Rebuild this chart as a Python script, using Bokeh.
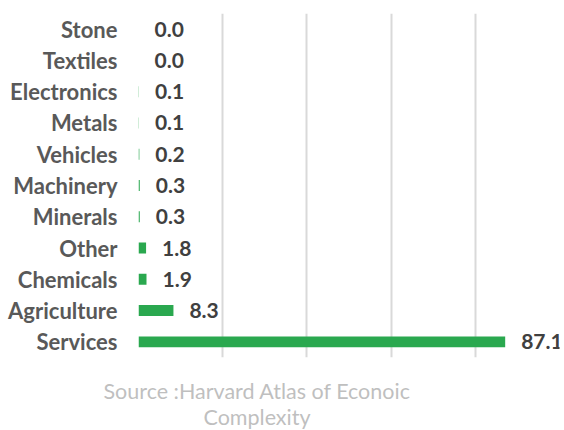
from bokeh.plotting import figure
from bokeh.models import FactorRange, Range1d, FixedTicker, ColumnDataSource, Title
from bokeh.core.properties import value
from bokeh.embed import file_html
from bokeh.resources import INLINE

categories = ["Stone", "Textiles", "Electronics", "Metals", "Vehicles", "Machinery",
              "Minerals", "Other", "Chemicals", "Agriculture", "Services"]
values = [0.0, 0.0, 0.1, 0.1, 0.2, 0.3, 0.3, 1.8, 1.9, 8.3, 87.1]
value_labels = [f"{v:.1f}" for v in values]
grid_ticks = [0, 20, 40, 60, 80, 100]
source_lines = ["Source :Harvard Atlas of Econoic", "Complexity"]

FONT = "Lato"
src = ColumnDataSource(dict(cat=categories, val=values, lab=value_labels))

p = figure(width=564, height=430, output_backend="svg", toolbar_location=None,
           y_range=FactorRange(factors=list(reversed(categories))),
           x_range=Range1d(0, 100),
           min_border_left=138, min_border_right=5, min_border_top=13, min_border_bottom=73)
p.outline_line_color = None
p.background_fill_color = "white"
p.border_fill_color = "white"

p.hbar(y="cat", right="val", left=0, height=0.35, fill_color="#2AA84F",
       line_color=None, source=src)
p.text(x="val", y="cat", text="lab", source=src, x_offset=16,
       text_baseline="middle", text_align="left",
       text_font=value(FONT), text_font_style="bold",
       text_font_size="21px", text_color="#404040")

# x axis is not shown in the reference: keep it only as empty spacing
xax = p.xaxis[0]
xax.ticker = FixedTicker(ticks=[0])
xax.major_label_overrides = {0: ""}
xax.major_label_text_font_size = "1px"
xax.major_label_standoff = 0
xax.major_tick_out = 19
xax.major_tick_in = 0
xax.major_tick_line_color = None
xax.minor_tick_line_color = None
xax.axis_line_color = None

p.xgrid.ticker = FixedTicker(ticks=grid_ticks)
p.xgrid.grid_line_color = "#d9d9d9"
p.xgrid.grid_line_width = 2
p.ygrid.grid_line_color = None

ax = p.yaxis[0]
ax.axis_line_color = None
ax.major_tick_line_color = None
ax.minor_tick_line_color = None
ax.major_tick_out = 0
ax.major_tick_in = 0
ax.major_label_standoff = 21
ax.major_label_text_font = FONT
ax.major_label_text_font_style = "bold"
ax.major_label_text_font_size = "22px"
ax.major_label_text_color = "#595959"

# caption below the chart, centred at x = 256 px (frame starts at 138 px)
offsets = [-35, 65]
standoffs = [-2, -2]
for line, off, so in zip(source_lines, offsets, standoffs):
    p.add_layout(Title(text=line, align="left", offset=off, standoff=so,
                       text_font=FONT, text_font_style="normal",
                       text_font_size="21.5px", text_color="#BFBFBF"), "below")

open("out.html", "w").write(file_html(p, INLINE))
